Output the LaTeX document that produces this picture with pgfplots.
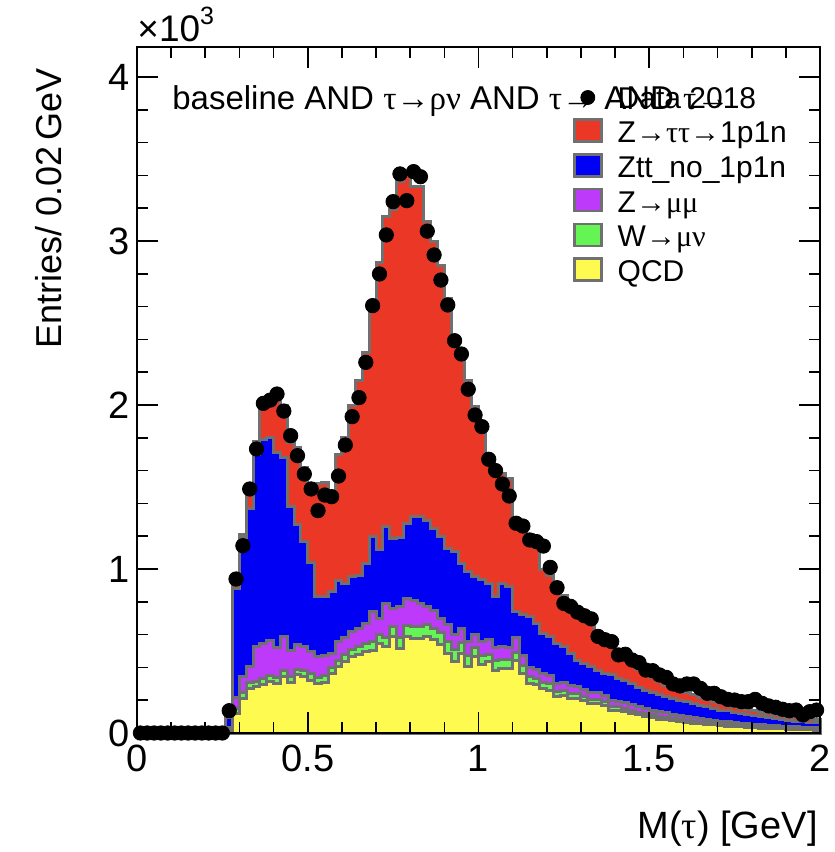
\documentclass[border=0pt]{standalone}
\usepackage{fontspec}
\setmainfont{Liberation Sans}
\newfontfamily\grk{Liberation Serif}
\usepackage{pgfplots}
\usepackage{pgfplotstable}
\pgfplotsset{compat=1.18}
\definecolor{cRed}{RGB}{234,55,38}
\definecolor{cBlue}{RGB}{0,0,245}
\definecolor{cPurple}{RGB}{190,58,250}
\definecolor{cGreen}{RGB}{100,245,85}
\definecolor{cYellow}{RGB}{255,250,80}
\definecolor{cGray}{RGB}{112,112,112}
\newcommand{\swatch}[1]{\addlegendimage{legend image code/.code={\draw[fill=#1, draw=cGray, line width=1.3pt] (0pt,-3.25pt) rectangle (13.5pt,7.75pt); \path (21.5pt,0pt);}}}

% stack tops per bin (left edge x): Y=QCD, G=+W, P=+Zmumu, B=+Ztt_no_1p1n, T=+Z->tautau->1p1n
\pgfplotstableread{
x Y G P B T
0.00 0 0 0 0 0
0.02 0 0 0 0 0
0.04 0 0 0 0 0
0.06 0 0 0 0 0
0.08 0 0 0 0 0
0.10 0 0 0 0 0
0.12 0 0 0 0 0
0.14 0 0 0 0 0
0.16 0 0 0 0 0
0.18 0 0 0 0 0
0.20 0 0 0 0 0
0.22 0 0 0 0 0
0.24 0 0 0 0 0
0.26 10 15 35 95 100
0.28 120 150 215 880 905
0.30 211 245 345 1190 1210
0.32 272 305 405 1370 1500
0.34 282 315 525 1700 1780
0.36 293 330 547 1790 2000
0.38 313 350 567 1800 2040
0.40 300 340 520 1710 2040
0.42 343 380 587 1680 2000
0.44 307 345 506 1380 1770
0.46 354 390 540 1270 1740
0.48 343 380 530 1170 1620
0.50 323 360 496 1040 1460
0.52 303 340 465 831 1520
0.54 310 350 470 831 1530
0.56 364 400 486 860 1470
0.58 404 445 560 930 1700
0.60 435 478 585 912 1800
0.62 465 510 620 953 2000
0.64 476 525 640 960 2150
0.66 496 548 670 1034 2320
0.68 506 560 740 1199 2600
0.70 547 600 700 1116 2870
0.72 526 585 790 1258 3150
0.74 587 650 760 1187 3190
0.76 516 580 770 1190 3360
0.78 587 655 820 1278 3400
0.80 577 650 810 1320 3330
0.82 577 650 790 1320 3330
0.84 587 660 770 1295 3120
0.86 570 640 745 1248 3000
0.88 540 610 700 1197 2850
0.90 486 560 660 1126 2650
0.92 435 510 600 1106 2420
0.94 486 550 640 1035 2300
0.96 404 470 560 984 2150
0.98 465 520 600 953 1990
1.00 415 470 560 933 1880
1.02 435 480 570 913 1690
1.04 384 440 520 831 1610
1.06 394 450 530 913 1580
1.08 394 450 520 892 1550
1.10 445 490 580 740 1300
1.12 364 410 470 720 1290
1.14 303 345 400 709 1210
1.16 293 330 390 669 1130
1.18 272 305 360 608 1000
1.20 262 300 350 587 960
1.22 221 255 300 547 920
1.24 231 260 310 526 840
1.26 211 240 290 486 790
1.28 211 240 285 445 740
1.30 201 225 265 425 720
1.32 181 205 250 404 690
1.34 181 205 245 384 620
1.36 170 190 230 364 590
1.38 140 160 200 354 540
1.40 140 160 195 333 480
1.42 130 150 185 320 450
1.44 120 140 175 300 420
1.46 110 128 160 280 385
1.48 100 118 150 262 365
1.50 95 112 140 250 340
1.52 85 100 130 235 312
1.54 80 95 122 221 292
1.56 75 88 115 210 272
1.58 70 83 108 200 258
1.60 65 78 102 190 245
1.62 60 72 95 181 236
1.64 55 66 88 170 218
1.66 52 62 82 160 205
1.68 50 60 78 150 192
1.70 45 55 72 140 180
1.72 42 51 68 135 170
1.74 40 48 64 125 160
1.76 38 46 60 118 150
1.78 35 43 56 110 142
1.80 33 40 53 105 135
1.82 30 37 50 100 127
1.84 28 35 47 95 120
1.86 26 33 44 88 112
1.88 25 31 42 83 106
1.90 23 29 40 78 100
1.92 22 27 37 72 94
1.94 20 25 35 68 90
1.96 20 25 34 65 87
1.98 18 23 32 62 85
2.00 18 23 32 62 85
}\mc

\pgfplotstableread{
x d
0.01 0
0.03 0
0.05 0
0.07 0
0.09 0
0.11 0
0.13 0
0.15 0
0.17 0
0.19 0
0.21 0
0.23 0
0.25 0
0.27 136
0.29 939
0.31 1142
0.33 1488
0.35 1732
0.37 2010
0.39 2030
0.41 2067
0.43 1963
0.45 1813
0.47 1691
0.49 1579
0.51 1488
0.53 1356
0.55 1451
0.57 1441
0.59 1567
0.61 1756
0.63 1929
0.65 2045
0.67 2260
0.69 2606
0.71 2799
0.73 3037
0.75 3240
0.77 3409
0.79 3246
0.81 3423
0.83 3392
0.85 3060
0.87 2915
0.89 2762
0.91 2610
0.93 2392
0.95 2311
0.97 2096
0.99 1939
1.01 1868
1.03 1669
1.05 1600
1.07 1518
1.09 1445
1.11 1279
1.13 1262
1.15 1177
1.17 1167
1.19 1140
1.21 1010
1.23 886
1.25 790
1.27 772
1.29 737
1.31 715
1.33 696
1.35 589
1.37 569
1.39 557
1.41 476
1.43 480
1.45 445
1.47 429
1.49 384
1.51 380
1.53 354
1.55 339
1.57 299
1.59 287
1.61 299
1.63 299
1.65 272
1.67 242
1.69 242
1.71 221
1.73 205
1.75 201
1.77 191
1.79 191
1.81 205
1.83 181
1.85 165
1.87 157
1.89 145
1.91 136
1.93 140
1.95 110
1.97 130
1.99 140
}\dat

\begin{document}
\begin{tikzpicture}
\useasboundingbox (-68.5pt,-59.5pt) rectangle (349pt,366.5pt);
\begin{axis}[
  at={(0pt,0pt)}, anchor=south west,
  scale only axis, width=341.5pt, height=343pt,
  xmin=0, xmax=2, ymin=0, ymax=4183,
  clip=false, axis on top,
  xtick={0,0.5,1,1.5,2}, xticklabels={0,0.5,1,1.5,2},
  ytick={0,1000,2000,3000,4000}, yticklabels={0,1,2,3,4},
  minor x tick num=4, minor y tick num=4,
  tick align=inside, xtick pos=both, ytick pos=both,
  major tick length=10.5pt, minor tick length=5.5pt,
  every tick/.style={black, line width=0.8pt},
  axis line style={line width=1pt, black},
  ticklabel style={font=\fontsize{19}{21}\selectfont, inner sep=0pt},
  xticklabel style={anchor=north, yshift=-6pt},
  yticklabel style={anchor=east, xshift=-3.5pt},
  legend cell align=left,
  legend style={at={(rel axis cs:0.6384,0.9446)}, anchor=north west, draw=none, fill=none,
    inner sep=0pt, outer sep=0pt, row sep=1.2pt, font=\fontsize{15}{17}\selectfont,
    nodes={inner sep=0pt, text height=11.5pt, text depth=4pt}},
]
\addlegendimage{legend image code/.code={\fill[black] (6.75pt,1.5pt) circle (3.5pt); \path (21.5pt,0pt);}}
\swatch{cRed}
\swatch{cBlue}
\swatch{cPurple}
\swatch{cGreen}
\swatch{cYellow}
\legend{Data 2018, Z{\grk →ττ→}1p1n, Ztt\_no\_1p1n, Z{\grk →μμ}, W{\grk →μν}, QCD}

\addplot[const plot mark left, fill=cRed, draw=cGray, line width=1.5pt] table[x=x, y=T] {\mc} \closedcycle;
\addplot[const plot mark left, fill=cBlue, draw=cGray, line width=1.5pt] table[x=x, y=B] {\mc} \closedcycle;
\addplot[const plot mark left, fill=cPurple, draw=cGray, line width=1.5pt] table[x=x, y=P] {\mc} \closedcycle;
\addplot[const plot mark left, fill=cGreen, draw=cGray, line width=1.5pt] table[x=x, y=G] {\mc} \closedcycle;
\addplot[const plot mark left, fill=cYellow, draw=cGray, line width=1.5pt] table[x=x, y=Y] {\mc} \closedcycle;
\addplot[only marks, mark=*, mark size=3.6pt, mark options={fill=black, draw=black}] table[x=x, y=d] {\dat};

\node[anchor=base west, inner sep=0pt, font=\fontsize{16.5}{18}\selectfont] at (rel axis cs:0.0512,0.9096) {baseline AND {\grk τ→ρν} AND {\grk τ→} AND {\grk τ→}};
\end{axis}
\node[rotate=90, anchor=base east, inner sep=0pt, font=\fontsize{18}{20}\selectfont] at ([xshift=-37.5pt, yshift=-10.5pt]current axis.north west) {Entries/ 0.02\,GeV};
\node[anchor=base east, inner sep=0pt, font=\fontsize{19}{21}\selectfont] at ([xshift=-1pt, yshift=-52.5pt]current axis.south east) {M({\grk τ}) [GeV]};
\node[anchor=base west, inner sep=0pt, font=\fontsize{18.5}{20}\selectfont] at ([yshift=2.5pt]current axis.north west) {×10\raisebox{8.5pt}{\fontsize{12.5}{13}\selectfont 3}};
\end{tikzpicture}
\end{document}
